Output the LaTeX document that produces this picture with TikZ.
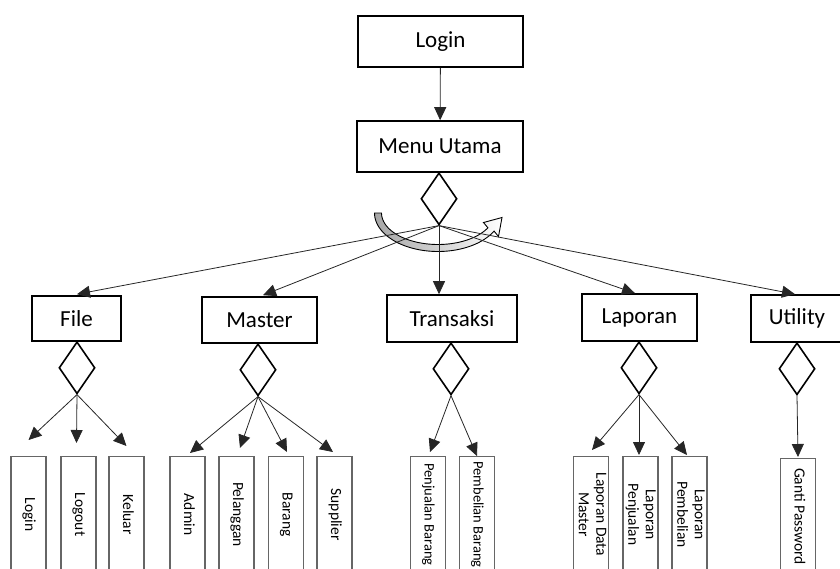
\documentclass[tikz,border=0pt]{standalone}
\usepackage{fontspec}
\setmainfont{Carlito}
\usetikzlibrary{arrows.meta,shapes.geometric}

\tikzset{
  menubox/.style={draw=black, line width=1.6pt, rectangle, inner sep=0pt,
    font=\fontsize{23}{27}\selectfont},
  choice/.style={draw=black, line width=1.6pt, diamond, inner sep=0pt,
    minimum width=36pt, minimum height=52pt},
  leafbox/.style={draw=black!60, line width=1.1pt, rectangle, inner sep=0pt,
    anchor=north, minimum width=35pt, minimum height=116pt,
    font=\fontsize{15.5}{17.5}\selectfont},
  longleaf/.style={leafbox, font=\fontsize{14.5}{17}\selectfont},
  link/.style={draw=black!85, line width=0.8pt,
    -{Triangle[length=13pt,width=12pt]}},
  turn/.style={draw=black, line width=0.9pt, left color=gray!70, right color=white}
}

\newcommand{\vtext}[1]{\rotatebox{-90}{\begin{tabular}{@{}c@{}}#1\end{tabular}}}

\begin{document}
\begin{tikzpicture}[x=1pt,y=-1pt]
\useasboundingbox (0,0) rectangle (840,568);

% main menu chain
\node[menubox, minimum width=165pt, minimum height=51pt] (login) at (440.5,41.5) {Login};
\node[menubox, minimum width=166pt, minimum height=51pt] (menu) at (440,146.5) {Menu Utama};
\node[choice, anchor=north] (mdia) at (439,172) {};

% curved selection arrow below the menu choice
\draw[turn] plot[domain=180:28, samples=50] ({438+63.5*cos(\x)},{213+38.5*sin(\x)})
  -- (498.5,236.5) -- (502,217.5) -- (483.5,222.5)
  -- plot[domain=28:180, samples=50] ({438+56.5*cos(\x)},{213+31.5*sin(\x)}) -- cycle;

% top level menus
\node[menubox, minimum width=89pt, minimum height=45pt] (file) at (76.5,318.5) {File};
\node[menubox, minimum width=115pt, minimum height=46pt] (master) at (259.5,320) {Master};
\node[menubox, minimum width=130pt, minimum height=47pt] (trans) at (452,318.5) {Transaksi};
\node[menubox, minimum width=115pt, minimum height=47pt] (lap) at (639.5,317.5) {Laporan};
\node[menubox, minimum width=92pt, minimum height=47pt] (util) at (797,318.5) {Utility};

% sub menu choices
\node[choice, anchor=north] (fdia) at (77,341) {};
\node[choice, anchor=north] (mtdia) at (258,343) {};
\node[choice, anchor=north] (tdia) at (451,342) {};
\node[choice, anchor=north] (ldia) at (639,341) {};
\node[choice, anchor=north] (udia) at (797,342) {};

% leaf items
\node[leafbox] (f1) at (28.5,456) {\vtext{Login}};
\node[leafbox] (f2) at (78.5,456) {\vtext{Logout}};
\node[leafbox] (f3) at (126.5,456) {\vtext{Keluar}};

\node[leafbox] (m1) at (187.5,456) {\vtext{Admin}};
\node[leafbox] (m2) at (236.5,456) {\vtext{Pelanggan}};
\node[leafbox] (m3) at (286,456) {\vtext{Barang}};
\node[leafbox] (m4) at (334.5,456) {\vtext{Supplier}};

\node[longleaf] (t1) at (428,456) {\vtext{Penjualan Barang}};
\node[longleaf] (t2) at (477,456) {\vtext{Pembelian Barang}};

\node[leafbox] (l1) at (591,456) {\vtext{Laporan Data\\Master}};
\node[leafbox] (l2) at (640.5,456) {\vtext{Laporan\\Penjualan}};
\node[leafbox] (l3) at (689.5,456) {\vtext{Laporan\\Pembelian}};

\node[leafbox] (u1) at (798,458) {\vtext{Ganti Password}};

% connectors
\draw[link] (login) -- (menu);

\draw[link] (mdia.south) -- ([xshift=0.5pt,yshift=1pt]file.north);
\draw[link] (mdia.south) -- ([xshift=3.5pt,yshift=1pt]master.north);
\draw[link] (mdia.south) -- (mdia.south |- trans.north);
\draw[link] (mdia.south) -- ([xshift=-4.5pt]lap.north);
\draw[link] (mdia.south) -- ([xshift=-2pt]util.north);

\draw[link] (fdia.south) -- ([yshift=16pt]f1.north);
\draw[link] (fdia.south) -- ([xshift=-2pt,yshift=13pt]f2.north);
\draw[link] (fdia.south) -- ([yshift=10pt]f3.north);

\draw[link] (mtdia.south) -- ([xshift=2.5pt,yshift=3pt]m1.north);
\draw[link] (mtdia.south) -- ([xshift=3.5pt,yshift=8pt]m2.north);
\draw[link] (mtdia.south) -- ([xshift=1pt,yshift=4pt]m3.north);
\draw[link] (mtdia.south) -- ([xshift=-1.5pt,yshift=4pt]m4.north);

\draw[link] (tdia.south) -- ([xshift=2pt,yshift=4pt]t1.north);
\draw[link] (tdia.south) -- (t2.north);

\draw[link] (ldia.south) -- ([xshift=1pt,yshift=6pt]l1.north);
\draw[link] (ldia.south) -- ([xshift=-1.5pt,yshift=1pt]l2.north);
\draw[link] (ldia.south) -- ([xshift=-2.5pt,yshift=1pt]l3.north);

\draw[link] (udia.south) -- ([yshift=1pt]u1.north);
\end{tikzpicture}
\end{document}
